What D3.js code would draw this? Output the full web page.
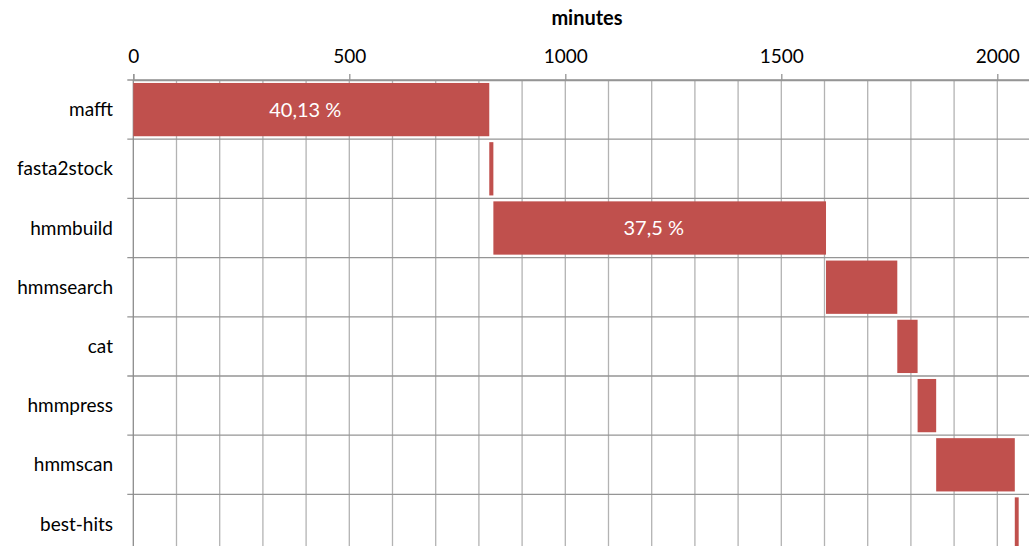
<!DOCTYPE html>
<html>
<head>
<meta charset="utf-8">
<script src="https://cdn.jsdelivr.net/npm/d3@7"></script>
<style>
  body { margin: 0; background: #fff; }
  svg { display: block; font-family: Lato, "Open Sans", sans-serif; }
</style>
</head>
<body>
<div id="chart"></div>
<script>
// steps of the pipeline and how long each took (minutes)
const steps = ["mafft", "fasta2stock", "hmmbuild", "hmmsearch", "cat", "hmmpress", "hmmscan", "best-hits"];
const durations = [824, 9.5, 770, 165, 47, 43, 182, 9];
const shareLabels = ["40,13 %", "", "37,5 %", "", "", "", "", ""];
const tickValues = [0, 500, 1000, 1500, 2000];

function drawChart() {
    const width = 1029, height = 546;
    // plot area (cropped on right and bottom like the original)
    const margin = {top: 80, left: 133.3};
    const plotRight = 1040.5, plotBottom = 80 + 59.2 * 8;

    const svg = d3.select("#chart").append("svg")
        .attr("width", width)
        .attr("height", height);

    // stacked starts: each step begins where the previous one ends
    const ends = d3.cumsum(durations);
    const data = steps.map((s, i) => ({
        name: s,
        start: ends[i] - durations[i],
        dur: durations[i],
        label: shareLabels[i]
    }));

    const x = d3.scaleLinear().domain([0, 2100]).range([margin.left, plotRight]);
    const y = d3.scaleBand().domain(steps).range([margin.top, plotBottom]).paddingInner(0.1).paddingOuter(0.05);

    // vertical gridlines every 100 minutes
    svg.append("g")
        .selectAll("line")
        .data(d3.range(100, 2100, 100))
        .enter().append("line")
        .attr("x1", d => x(d)).attr("x2", d => x(d))
        .attr("y1", margin.top).attr("y2", plotBottom)
        .attr("stroke", "#b3b3b3")
        .attr("stroke-width", 1.3);

    // horizontal row separators (with small ticks left of the axis)
    const rowEdges = d3.range(steps.length + 1).map(i => margin.top + i * y.step());
    svg.append("g")
        .selectAll("line")
        .data(rowEdges)
        .enter().append("line")
        .attr("x1", margin.left - 6).attr("x2", plotRight)
        .attr("y1", d => d).attr("y2", d => d)
        .attr("stroke", "#959595")
        .attr("stroke-width", 1.3);

    // left axis line
    svg.append("line")
        .attr("x1", margin.left).attr("x2", margin.left)
        .attr("y1", margin.top).attr("y2", plotBottom)
        .attr("stroke", "#8c8c8c")
        .attr("stroke-width", 1.3);

    // top axis
    const xAxis = svg.append("g")
        .attr("transform", "translate(0," + margin.top + ")")
        .call(d3.axisTop(x).tickValues(tickValues).tickFormat(d3.format("d")).tickSize(6).tickPadding(11));
    xAxis.select(".domain").attr("stroke", "#959595").attr("stroke-width", 1.3);
    xAxis.selectAll(".tick line").attr("stroke", "#959595").attr("stroke-width", 1.3);
    xAxis.selectAll(".tick text")
        .attr("font-family", "Lato, 'Open Sans', sans-serif")
        .attr("font-size", 19)
        .attr("fill", "#000");

    svg.append("text")
        .attr("x", 587)
        .attr("y", 25)
        .attr("text-anchor", "middle")
        .attr("font-size", 20)
        .attr("font-weight", "bold")
        .text("minutes");

    // category labels
    svg.append("g")
        .selectAll("text")
        .data(steps)
        .enter().append("text")
        .attr("x", 113)
        .attr("y", d => y(d) + y.bandwidth() / 2)
        .attr("dy", "0.35em")
        .attr("text-anchor", "end")
        .attr("font-size", 19)
        .attr("fill", "#000")
        .text(d => d);

    // bars
    svg.append("g")
        .selectAll("rect")
        .data(data)
        .enter().append("rect")
        .attr("x", d => x(d.start))
        .attr("y", d => y(d.name))
        .attr("width", d => x(d.start + d.dur) - x(d.start))
        .attr("height", y.bandwidth())
        .attr("fill", "#c0504d");

    // share labels inside the big bars
    svg.append("g")
        .selectAll("text")
        .data(data.filter(d => d.label))
        .enter().append("text")
        .attr("x", d => x(d.start + d.dur / 2) - 6)
        .attr("y", d => y(d.name) + y.bandwidth() / 2)
        .attr("dy", "0.35em")
        .attr("text-anchor", "middle")
        .attr("font-size", 20)
        .attr("fill", "#fff")
        .text(d => d.label);
}
drawChart();
</script>
</body>
</html>
